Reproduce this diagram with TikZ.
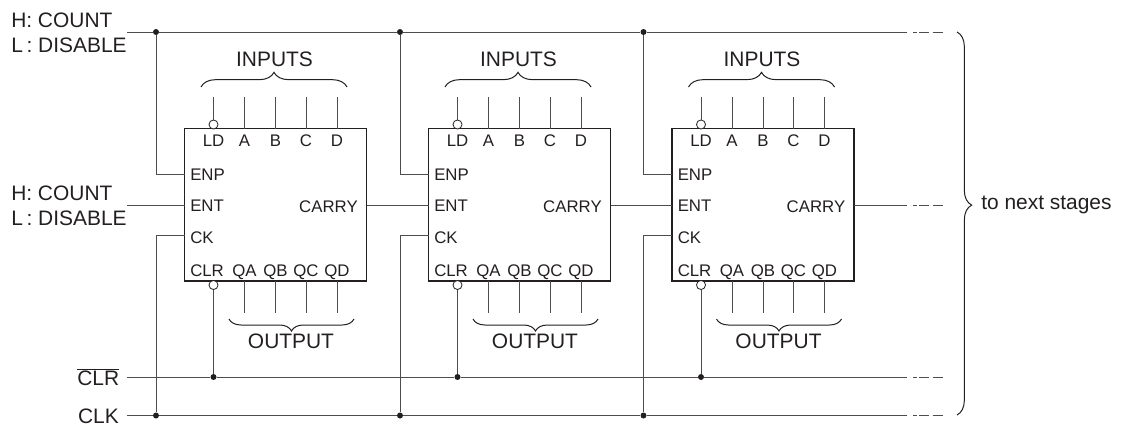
\documentclass[tikz,border=0pt]{standalone}
\usepackage{fontspec}
\setmainfont{Liberation Sans}
\usetikzlibrary{decorations.pathreplacing}
\definecolor{ink}{HTML}{231F20}
\tikzset{
    wire/.style={line width=0.65pt, color=ink!80},
    breakwire/.style={wire, dash pattern=on 2.5pt off 2pt on 7.5pt off 2.5pt on 7.5pt off 20pt},
    chipbox/.style={draw=ink, line width=0.9pt, minimum width=136.5pt, minimum height=114.4pt, inner sep=0pt},
    bubble/.style={circle, draw=ink, fill=white, line width=0.6pt, minimum size=6.8pt, inner sep=0pt},
    junction/.style={circle, fill=ink, minimum size=4.5pt, inner sep=0pt},
    biglabel/.style={text=ink, font=\fontsize{15.7pt}{18pt}\selectfont, inner sep=0pt},
    pinlabel/.style={text=ink, font=\fontsize{12.6pt}{15pt}\selectfont, inner sep=0pt},
    curly/.style={draw=ink, line width=0.75pt, decorate, decoration={brace, amplitude=#1}}
}
\begin{document}
\begin{tikzpicture}[x=0.75pt, y=-0.75pt]
    \useasboundingbox (0,0) rectangle (1123,428);

    % Etiquetas de entrada
    \node[biglabel, anchor=west] (countA) at (11,20) {H: COUNT};
    \node[biglabel, anchor=west] (disableA) at (11,45) {L\kern-1.6pt{} : DISABLE};
    \node[biglabel, anchor=west] (countB) at (11,193) {H: COUNT};
    \node[biglabel, anchor=west] (disableB) at (11,218) {L\kern-1.6pt{} : DISABLE};
    \node[biglabel, anchor=east] (clrlabel) at (119.5,377) {$\overline{\mbox{CLR}}$};
    \node[biglabel, anchor=east] (clklabel) at (119,416) {CLK};
    \node[biglabel, anchor=west] (nextlabel) at (981,205) {to next stages};

    % Extremos de las lineas
    \coordinate (enpstart) at (127,32);
    \coordinate (entstart) at (127,205);
    \coordinate (clrstart) at (127,377);
    \coordinate (clkstart) at (127,415.5);
    \foreach \row/\y in {enp/32, carry/205, clr/377, clk/415.5} {
        \coordinate (\row end) at (907,\y);
        \coordinate (\row dash) at (913.3,\y);
        \coordinate (\row far) at (943,\y);
        \draw[breakwire] (\row dash) -- (\row far);
    }

    % Etapas
    \foreach \i/\dx in {1/0, 2/244, 3/487.5} {
        \begin{scope}[shift={(\dx,0)}]
            \node[chipbox] (chip\i) at (275.5,204.75) {};

            % Entradas y salidas
            \foreach \pin/\x in {A/244.5, B/275.5, C/306, D/337} {
                \node[pinlabel, anchor=base] (in\pin\i) at (\x,146) {\pin};
                \coordinate (intop\pin\i) at (\x,97);
                \coordinate (inend\pin\i) at (\x,128.5);
                \draw[wire] (intop\pin\i) -- (inend\pin\i);
                \node[pinlabel, anchor=base] (out\pin\i) at (\x,276) {Q\pin};
                \coordinate (outtop\pin\i) at (\x,281);
                \coordinate (outend\pin\i) at (\x,313);
                \draw[wire] (outtop\pin\i) -- (outend\pin\i);
            }
            \node[pinlabel, anchor=base] (ldtext\i) at (213.5,146) {LD};
            \node[pinlabel, anchor=base west] (clrtext\i) at (190,276) {CLR};
            \node[pinlabel, anchor=base west] (enptext\i) at (190,180) {ENP};
            \node[pinlabel, anchor=base west] (enttext\i) at (190,211.5) {ENT};
            \node[pinlabel, anchor=base west] (cktext\i) at (190,243) {CK};
            \node[pinlabel, anchor=base east] (carrytext\i) at (358,212) {CARRY};

            % Circulos de negacion
            \node[bubble] (ldbub\i) at (213.5,124.5) {};
            \node[bubble] (clrbub\i) at (213.5,285) {};
            \coordinate (ldtop\i) at (213.5,97);
            \draw[wire] (ldtop\i) -- (ldbub\i);

            % Puntos de union
            \node[junction] (enpdot\i) at (156,32) {};
            \node[junction] (clkdot\i) at (156,415.5) {};
            \node[junction] (clrdot\i) at (213.5,377) {};
            \coordinate (enppin\i) at (184.5,174);
            \coordinate (entpin\i) at (184.5,205);
            \coordinate (ckpin\i) at (184.5,235.7);
            \coordinate (carrypin\i) at (366.5,205);
            \draw[wire] (enpdot\i) |- (enppin\i);
            \draw[wire] (clkdot\i) |- (ckpin\i);
            \draw[wire] (clrdot\i) -- (clrbub\i);

            % Llaves
            \coordinate (inbraceA\i) at (201,87);
            \coordinate (inbraceB\i) at (347,87);
            \coordinate (outbraceA\i) at (354,319);
            \coordinate (outbraceB\i) at (229,319);
            \draw[curly=11pt] (inbraceA\i) -- (inbraceB\i);
            \draw[curly=9pt] (outbraceA\i) -- (outbraceB\i);
            \node[biglabel] (inputs\i) at (274.5,59) {INPUTS};
            \node[biglabel] (output\i) at (291,341) {OUTPUT};
        \end{scope}
    }

    % Lineas comunes
    \draw[wire] (enpstart) -- (enpdot1) -- (enpdot2) -- (enpdot3) -- (enpend);
    \draw[wire] (clrstart) -- (clrdot1) -- (clrdot2) -- (clrdot3) -- (clrend);
    \draw[wire] (clkstart) -- (clkdot1) -- (clkdot2) -- (clkdot3) -- (clkend);
    \draw[wire] (entstart) -- (entpin1);
    \draw[wire] (carrypin1) -- (entpin2);
    \draw[wire] (carrypin2) -- (entpin3);
    \draw[wire] (carrypin3) -- (carryend);

    % Llave grande
    \coordinate (bigbraceA) at (957,32);
    \coordinate (bigbraceB) at (957,415);
    \draw[curly=11pt, decoration={aspect=0.452}] (bigbraceA) -- (bigbraceB);
\end{tikzpicture}
\end{document}
